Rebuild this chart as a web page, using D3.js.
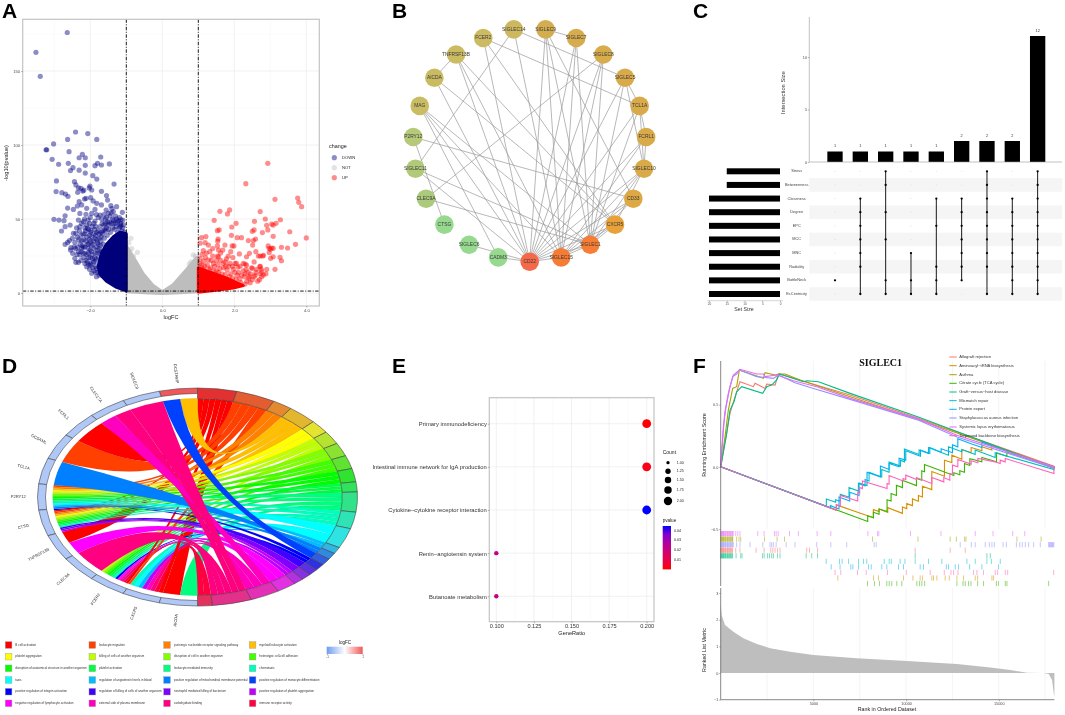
<!DOCTYPE html>
<html><head><meta charset="utf-8">
<script src="https://cdn.jsdelivr.net/npm/d3@7/dist/d3.min.js"></script>
<style>
html,body{margin:0;padding:0;background:#fff}
svg{display:block;filter:blur(.3px)}
text{font-family:"Liberation Sans",Arial,sans-serif}
</style></head><body><svg id="c" width="1065" height="715"></svg>
<script>
/* ---------- A: volcano ---------- */
const volcanoDown=[[-2.64,176],[-3.51,162.6],[-3.39,146.4],[-2.41,108.8],[-2.07,107.7],[-2.63,103.8],[-1.82,103.8],[-3.02,100.7],[-3.23,96.8],[-3.21,96.8],[-2.59,95.5],[-2.22,93.7],[-2.31,91.4],[-2.14,91.4],[-1.71,91.9],[-3.06,90.3],[-2.88,87],[-2.61,87.6],[-1.8,87.6],[-1.69,86.5],[-1.47,87.2],[-1.87,86],[-2.14,86.3],[-2.48,84.7],[-2.55,82.7],[-2.31,83],[-2.14,81],[-1.93,79.3],[-1.82,77],[-2.94,75.7],[-2.44,75.2],[-1.34,73.6],[-2.4,73],[-2.33,71],
[-2.95,68.5],[-2.79,67.8],[-2.69,66.9],[-2.62,65.3],[-2.35,68],[-2.26,70.7],[-2.01,72.3],[-2.03,71],[-1.96,69.6],[-2.21,68.9],[-2.18,69.5],[-1.69,68.7],[-1.55,65.8],[-1.52,62.8],[-2.12,64],[-2.16,63.5],[-1.99,64.4],[-2.31,61.7],[-2.24,59.5],[-1.92,62.2],[-1.82,60.6],[-1.69,59.5],[-1.43,59],[-1.27,58.3],[-1.4,57],[-2.63,57.4],[-2.47,56.5],[-2.36,58.8],[-2.1,57.2],[-1.87,56.5],[-1.56,56],[-1.36,55],[-1.11,54.5],[-2.7,52.2],[-3.01,49.8],[-2.87,49.3],[-2.73,48.9],[-2.29,53.8],[-2.12,53.2],[-1.96,53.8],[-1.73,52.7],[-1.55,51.1],[-1.58,50],[-2.33,49.3],[-2.19,48.2],[-2.06,49.3],[-1.87,48.6],[-1.1,49.3],[-1.22,48.9],[-1.15,49.5],[-1.42,47],[-2.56,45.9],[-2.7,44.8],[-2.8,41.9],[-2.29,44.8],[-2.08,43.7],[-1.73,44.8],[-1.62,46],[-1.95,45],[-1.78,42],[-1.5,46],[-1.3,47],[-1.17,45],[-1.1,44],[-2.4,40.3],[-2.47,40.3],[-2.36,37.6],[-2.58,35.4],[-2.63,34.2],[-2.7,32.9],[-2.24,35.4],[-2.43,34.2],[-2.08,32.9],[-2.05,33],[-1.87,36.9],[-2.15,40],[-2,41],[-1.85,39],[-1.7,38],[-2.54,30.6],[-2.41,30],[-2.24,30.2],[-2.01,29],[-2.49,26.8],[-2.29,25.7],[-2.43,23.4],[-2.4,20.7],[-2.33,20.7],[-2.15,20],[-2.1,17.8],[-1.87,21.2],[-1.96,13.3],[-1.73,26.8],[-1.69,17.8],[-1.82,16.7],[-1.95,26],[-2.05,24],[-1.9,30],[-2.15,27],[-1.78,33],[-1.88,24],[-1.98,19],[-2.02,16],[-1.9,15],[-1.83,11],[-1.75,12],
[-1.08,46],[-1.12,42],[-1.16,47],[-1.2,44],[-1.24,41],[-1.28,45],[-1.33,43],[-1.38,44],[-1.44,41],[-1.49,43],[-1.53,39],[-1.58,42],[-1.61,37],[-1.66,40],[-1.71,35],[-1.75,37],[-1.8,34],[-1.84,31],[-1.91,35],[-1.97,32],[-2.03,36],[-2.1,38],[-2.18,36],[-2.22,32],[-2.28,33],[-2.33,28],[-2.18,24],[-2.12,22],[-2.26,22],[-1.3,52],[-1.38,50],[-1.45,52],[-1.5,54],[-1.62,53],[-1.68,50],[-1.78,51],[-1.83,53],[-1.9,47],[-2,51],[-2.02,47],[-2.1,46],[-2.16,50],[-2.24,47],[-2.3,42],[-2.38,44],[-2.15,44],[-2.05,43],[-1.88,43],[-1.67,47],[-1.58,47],[-1.47,48],[-1.37,47],[-1.27,50],[-1.19,51],[-1.65,24],[-1.62,20],[-1.7,22],[-1.73,20],[-1.77,24],[-1.81,27],[-1.84,23],[-1.86,18],[-1.91,21],[-1.94,23],[-1.97,28],[-2,24],[-2.05,27],[-2.08,21],[-1.75,30],[-1.82,36],[-1.64,33],[-1.68,28],[-1.72,32],[-1.79,29],[-1.86,27],[-1.93,33],[-1.99,35],[-2.06,30],[-2.12,35],[-2.19,31],[-2.26,28],[-2.35,31],[-1.6,26],[-1.64,14],[-1.67,16],[-1.71,14],[-1.76,17],[-1.79,14],[-1.85,14],[-1.93,17],[-2,20],[-2.04,19],[-1.55,44],[-1.6,43],[-1.65,42],[-1.7,41],[-1.76,40],[-1.82,41],[-1.9,40],[-1.96,38],[-1.35,49],[-1.25,48],[-1.15,46],[-1.05,41],[-1.03,38],[-1.06,36],[-1.42,54],[-1.52,48],[-1.98,42],[-1.85,45],[-2.13,42],[-2.2,40],[-2.26,39],[-2.32,36],[-2.5,37],[-2.45,31],[-2.37,26],[-2.55,29],[-2.2,27],[-2.1,26],[-2.15,31],[-2.02,39]];
const volcanoUp=[[2.93,87.6],[2.32,73.9],[3.13,63.3],[3.76,64.2],[3.79,61.3],[3.87,58.3],[1.6,55.2],[1.87,56.1],[1.81,53.4],[2.72,55],[1.44,49.1],[2.86,50],[3.28,49.5],[2.05,47.1],[2.56,48.4],[3.04,46.6],[3.16,47.1],[3.08,45.9],[2.9,45.7],[1.93,44.6],[1.53,42.1],[1.58,42.6],[2.55,42.6],[2.5,41.7],[2.93,42.6],[2.78,40.8],[3.54,41.4],[1.92,39],[3.08,38.3],[2.08,37.4],[2.2,37.4],[4,37.2],[1.09,37.4],[1.21,38.1],[1.55,36.5],[1.54,35],[2.39,35.4],[2.59,36.5],[2.53,35.4],[3.7,32.9],[2.51,32.4],[2.94,31.8],[3.31,30.9],[3.48,30.4],[2.97,30.2],[3.04,30.4],[3.08,30.2],[3,29.5],[1.05,33.6],[1.19,34],[1.28,32.4],[1.53,31.8],[1.74,32.4],[1.94,31.8],[1.99,31.8],[1.14,28.6],[1.32,27.9],[1.56,29],[1.68,29],[1.9,27.9],[2.14,26.4],[2.42,26.8],[2.6,27.9],[2.97,27.3],[2.67,25],[2.81,25.5],[2.79,25],[3.01,23.4],[3.08,24.5],[3.27,24.1],[3.31,21.8],[3.13,16],[2.9,16],[2.76,14.4],[2.81,12.2],[2.71,17.8],[2.5,16.7],[2.3,19.6],[2.34,18.9],[2.34,24.5],[1.83,25],[1.53,25],[1.56,24.5],[2.06,20],[1.88,20],[1.69,20],[1.42,20],[1.28,22.3],[1.1,26],[1.05,23],[1.2,24],[1.4,25],[1.62,22],[1.75,21],[1.95,18],[2.1,17.5],[2.25,15],[2.45,13],[2.6,14],[2.75,16],[2.72,13],[2.55,11],[2.4,10],[2.2,12],[2.15,9.5],[2.35,8],[1.15,21.5],[1.25,19],[1.45,18],[1.6,16.5],[1.8,15.5],[1.9,13],[2.02,14],[2.48,17],[2.62,16],[2.72,18],
[1.04,20],[1.1,19],[1.18,18],[1.34,17],[1.5,15],[1.55,19],[1.7,17],[1.76,18],[1.84,18],[1.97,16],[2.08,12],[2.12,14],[2.28,11],[2.3,13],[2.38,14],[2.5,9],[2.65,8],[2.58,12],[2.44,7],[2.3,6],[2.18,7],[2.05,9],[1.95,10],[1.86,11],[1.75,12.5],[1.66,13],[1.56,14],[1.42,15],[1.3,16],[1.15,16],[1.08,17],[2.76,11],[2.7,9],[2.88,13],[2.42,11],[2.33,16],[2.16,18],[1.5,22],[1.36,22],[1.22,27],[1.4,30],[1.62,27],[1.78,23],[1.96,24],[2.02,20],[2.25,20],[2.55,21],[2.72,25]];
const volcanoMidGrey=[[-0.87,37],[-0.69,27.5],[-0.93,34],[-0.85,30],[0.86,25.7],[0.92,25],[0.8,21],[0.75,19.5],[-0.9,28],[-0.8,25]];
const denseDownTop=[[-1,40],[-1.18,41],[-1.36,38],[-1.55,33],[-1.69,27],[-1.78,18]];
const denseDownBottom=[[-1.73,12.5],[-1.55,8],[-1.27,3.8],[-1,1.4]];
const denseUpTop=[[1,17],[1.23,15],[1.51,12.5],[1.79,10],[2.06,7],[2.25,5]];
const denseUpBottom=[[1.97,3.4],[1.5,1.8],[1.05,0.6],[1,0.6]];
const greyTop=[[-1,32],[-0.85,26],[-0.7,20],[-0.53,13],[-0.25,5],[0,0.8],[0.3,5.5],[0.68,16],[0.95,24],[1,24]];
const greyBottom=[[1,0.8],[0.5,0.1],[0,-0.3],[-0.5,0.1],[-1,0.8]];
const volcanoLegend=["DOWN","NOT","UP"];
const volcanoXTicks=[-2,0,2,4], volcanoYTicks=[0,50,100,150];

/* ---------- B: network ---------- */
const netNodes=["CD22","SIGLEC15","SIGLEC1","CXCR5","CD33","SIGLEC10","FCRL1","TCL1A","SIGLEC5","SIGLEC8","SIGLEC7","SIGLEC9","SIGLEC14","FCER2","TNFRSF13B","AICDA","MAG","P2RY12","SIGLEC11","CLEC9A","CTSG","SIGLEC6","CADM3"];
const netColors=["#f4694a","#f67b35","#f67d33","#e9a239","#dca945","#d9aa48","#d8aa4a","#d8aa4a","#d8aa4a","#d6ac4c","#d6ac4e","#d4ad50","#cdb860","#cdbb63","#cbbb62","#cabb62","#c9bc63","#b5c978","#b1ca79","#acca7b","#96d98f","#96d98f","#96d98f"];
const netEdges=[["TNFRSF13B","AICDA"],["TNFRSF13B","CD22"],["TNFRSF13B","SIGLEC15"],["TNFRSF13B","CXCR5"],["FCER2","TCL1A"],["FCER2","CD22"],["FCER2","CXCR5"],["SIGLEC14","SIGLEC11"],["SIGLEC14","SIGLEC5"],["SIGLEC14","SIGLEC15"],["SIGLEC9","SIGLEC7"],["SIGLEC9","CD22"],["SIGLEC9","SIGLEC15"],["SIGLEC9","SIGLEC1"],["SIGLEC9","CD33"],["SIGLEC7","CD22"],["SIGLEC7","SIGLEC15"],["SIGLEC7","SIGLEC1"],["SIGLEC8","CLEC9A"],["SIGLEC8","CD22"],["SIGLEC8","SIGLEC15"],["SIGLEC8","SIGLEC1"],["SIGLEC5","TCL1A"],["SIGLEC5","CD22"],["SIGLEC5","SIGLEC1"],["SIGLEC5","SIGLEC10"],["TCL1A","FCRL1"],["TCL1A","SIGLEC10"],["TCL1A","CD22"],["TCL1A","SIGLEC1"],["FCRL1","SIGLEC10"],["FCRL1","CD22"],["FCRL1","SIGLEC15"],["SIGLEC10","CD22"],["SIGLEC10","SIGLEC15"],["SIGLEC10","SIGLEC1"],["SIGLEC10","CXCR5"],["CD33","CD22"],["CD33","SIGLEC15"],["CD33","SIGLEC1"],["CXCR5","CD22"],["CXCR5","SIGLEC15"],["CXCR5","SIGLEC1"],["SIGLEC1","CD22"],["SIGLEC1","SIGLEC15"],["SIGLEC15","CD22"],["AICDA","CD22"],["AICDA","CXCR5"],["MAG","CD22"],["MAG","CADM3"],["MAG","SIGLEC1"],["MAG","SIGLEC15"],["P2RY12","CTSG"],["P2RY12","CD33"],["SIGLEC11","CD22"],["SIGLEC11","SIGLEC1"],["CLEC9A","SIGLEC1"],["SIGLEC6","CD22"],["CADM3","CD22"]];

/* ---------- C: upset ---------- */
const setNames=["Stress","Betweenness","Closeness","Degree","EPC","MCC","MNC","Radiality","BottleNeck","EcCentricity"];
const setSizes=[15,15,20,20,20,20,20,20,20,20];
const intersectionSizes=[1,1,1,1,1,2,2,2,12];
const intersectionSets=[
 ["BottleNeck"],
 ["Closeness","Degree","EPC","MCC","MNC","Radiality","EcCentricity"],
 ["Stress","Betweenness","Degree","MCC","BottleNeck","EcCentricity"],
 ["MNC","BottleNeck","EcCentricity"],
 ["Closeness","EPC","Radiality","BottleNeck","EcCentricity"],
 ["Closeness","Degree","EPC","MCC","MNC","Radiality","BottleNeck"],
 ["Stress","Betweenness","Closeness","Degree","EPC","MCC","MNC","Radiality","EcCentricity"],
 ["Closeness","Degree","EPC","MCC","MNC","Radiality","BottleNeck","EcCentricity"],
 ["Stress","Betweenness","Closeness","Degree","EPC","MCC","MNC","Radiality","BottleNeck","EcCentricity"]];

/* ---------- D: GO chord ---------- */
const chordTerms=["B cell activation","leukocyte migration","purinergic nucleotide receptor signaling pathway","myeloid leukocyte activation","platelet aggregation","killing of cells of another organism","disruption of cell in another organism","heterotypic cell-cell adhesion","disruption of anatomical structure in another organism","platelet activation","leukocyte mediated immunity","chemotaxis","taxis","regulation of angiotensin levels in blood","positive regulation of mitochondrial membrane potential","positive regulation of monocyte differentiation","positive regulation of integrin activation","regulation of killing of cells of another organism","neutrophil mediated killing of bacterium","positive regulation of platelet aggregation","negative regulation of lymphocyte activation","external side of plasma membrane","carbohydrate binding","immune receptor activity"];
const chordTermColors=["#ff0000","#ff4000","#ff8000","#ffbf00","#ffff00","#bfff00","#80ff00","#40ff00","#00ff00","#00ff40","#00ff80","#00ffbf","#00ffff","#00bfff","#0080ff","#0040ff","#0000ff","#4000ff","#8000ff","#bf00ff","#ff00ff","#ff00bf","#ff0080","#ff0040"];
const chordTermWeights=[8,8,4,6,4,4,4,4,4,3,6,5,6,2,2,2,2,2,2,2,4,6,8,3];
const chordGenes=["DCSTAMP","SIGLEC8","CLEC17A","FCRL1","GCSAML","TCL1A","P2RY12","CTSG","TNFRSF13B","CLEC9A","FCER2","CXCR5","AICDA"];
const chordGeneLogFC=[1,-0.55,-0.55,-0.55,-0.55,-0.55,-0.55,-0.55,-0.55,-0.55,-0.55,-0.55,-0.55];
const chordGeneTerms=[[4,16],[23],[23,22],[1],[2],[15],[2,3,4,5,6,7,8,9,10,11,12,13,14,15],[17,1,2,3,4,5,6,7,8,9,10,11,12,18,19,20],[1,21],[23],[6,7,8,9,10,11,12,17,21,22,23,24,1,2],[12,13,14,20,22,23,24,1],[1,11]];

/* ---------- E: dot plot ---------- */
const dotTerms=["Primary immunodeficiency","Intestinal immune network for IgA production","Cytokine\u2212cytokine receptor interaction","Renin\u2212angiotensin system","Butanoate metabolism"];
const dotRatio=[0.2,0.2,0.2,0.1,0.1];
const dotCount=[2,2,2,1,1];
const dotP=[0.003,0.005,0.046,0.024,0.024];
const dotXTicks=[0.1,0.125,0.15,0.175,0.2];
const dotLegendCounts=[1,1.25,1.5,1.75,2];
const dotLegendP=[0.04,0.03,0.02,0.01];

/* ---------- F: GSEA ---------- */
const gseaNames=["Allograft rejection","Aminoacyl\u2212tRNA biosynthesis","Asthma","Citrate cycle (TCA cycle)","Graft\u2212versus\u2212host disease","Mismatch repair","Protein export","Staphylococcus aureus infection","Systemic lupus erythematosus","Terpenoid backbone biosynthesis"];
const gseaColors=["#F8766D","#D89000","#A3A500","#39B600","#00BF7D","#00BFC4","#00B0F6","#9590FF","#E76BF3","#FF62BC"];
const esAllograft=[[0,0],[286,.241],[502,.43],[718,.537],[952,.645],[1042,.685],[1762,.645],[1852,.672],[2392,.631],[2482,.666],[2932,.658],[3112,.747],[3382,.739],[4552,.685],[6982,.578],[10584,.395],[17974,.005],[18000,0]];
const esAminoacyl=[[0,0],[6238,-.349],[6238,-.306],[8236,-.409],[8236,-.344],[8542,-.36],[8542,-.339],[9010,-.366],[9010,-.328],[9802,-.374],[9802,-.323],[10036,-.336],[10036,-.296],[10342,-.312],[10342,-.258],[10666,-.277],[10666,-.231],[10882,-.242],[10882,-.156],[11386,-.183],[11386,-.038],[12070,-.075],[12070,.054],[12466,.035],[12466,.094],[13006,.062],[13006,.14],[13510,.113],[13510,.156],[14086,.129],[14086,.161],[14626,.135],[14626,.172],[15526,.129],[17974,-.013],[18000,0]];
const esAsthma=[[0,0],[232,.241],[412,.457],[646,.631],[862,.645],[1006,.779],[2302,.712],[2392,.758],[2932,.739],[3166,.747],[3472,.747],[4282,.699],[6982,.564],[10584,.385],[17974,0],[18000,0]];
const esCitrate=[[0,0],[7930,-.44],[7930,-.393],[8236,-.409],[8236,-.366],[8542,-.382],[8542,-.339],[8974,-.36],[8974,-.264],[9190,-.274],[9190,-.215],[9478,-.231],[9478,-.148],[9802,-.167],[9802,-.108],[10558,-.151],[10558,-.094],[10846,-.108],[10846,-.032],[10990,-.04],[10990,.019],[12574,-.07],[12574,-.048],[12898,-.064],[12898,-.032],[13150,-.043],[13150,.027],[13438,.011],[13438,.065],[14086,.04],[14086,.076],[14878,.04],[14878,.113],[15436,.086],[15436,.119],[17974,0],[18000,0]];
const esGvhd=[[0,0],[322,.268],[502,.457],[718,.524],[862,.604],[1132,.645],[2266,.591],[2482,.645],[2752,.658],[3022,.699],[3166,.747],[4462,.685],[4642,.693],[5272,.685],[6982,.591],[10584,.405],[17974,-.01],[18000,0]];
const esMismatch=[[0,0],[5698,-.319],[5698,-.258],[6202,-.285],[6202,-.264],[6454,-.277],[6454,-.22],[6922,-.245],[6922,-.167],[7426,-.194],[7426,-.134],[7786,-.153],[7786,-.102],[8002,-.113],[8002,-.043],[8686,-.081],[8686,-.021],[9082,-.043],[9082,.038],[9694,.006],[9694,.054],[9910,.04],[9910,.143],[10702,.1],[10702,.135],[11206,.108],[11206,.156],[12286,.094],[12286,.161],[13006,.121],[13006,.14],[13726,.1],[13726,.135],[14806,.075],[14806,.113],[17974,-.021],[18000,0]];
const esProtein=[[0,0],[5914,-.33],[5914,-.312],[6382,-.339],[6382,-.242],[6958,-.274],[6958,-.204],[7462,-.231],[7462,-.129],[7894,-.15],[7894,-.043],[8614,-.081],[8614,.006],[9082,-.021],[9082,.027],[9622,0],[9622,.07],[9982,.054],[9982,.129],[10774,.086],[10774,.135],[11278,.108],[11278,.156],[11890,.118],[11890,.145],[12502,.113],[12502,.178],[12790,.161],[12790,.226],[13546,.183],[14086,.156],[14086,.199],[14986,.148],[17974,-.005],[18000,0]];
const esStaph=[[0,0],[142,.322],[286,.483],[502,.645],[682,.739],[1006,.779],[1942,.726],[2842,.712],[3112,.739],[4012,.677],[5002,.631],[6982,.543],[10584,.38],[12744,.24],[17974,-.01],[18000,0]];
const esSle=[[0,0],[106,.214],[214,.43],[412,.591],[646,.726],[862,.747],[1042,.785],[1942,.747],[2302,.747],[2392,.726],[3022,.739],[3922,.693],[5182,.645],[6982,.551],[10584,.39],[12744,.255],[17974,.0],[18000,0]];
const esTerpenoid=[[0,0],[6238,-.349],[6238,-.306],[6454,-.317],[6454,-.231],[7390,-.274],[7390,-.204],[7498,-.21],[7498,-.167],[7642,-.175],[7642,-.113],[8974,-.175],[8974,-.134],[9082,-.14],[9082,-.07],[9838,-.113],[9838,-.094],[9982,-.102],[9982,-.067],[10558,-.102],[10558,-.086],[11386,-.134],[11386,-.086],[12034,-.121],[12034,-.086],[12358,-.107],[12358,-.054],[12502,-.059],[12502,.014],[12790,0],[12790,.059],[13510,.022],[13510,.049],[13870,.032],[13870,.067],[14806,.04],[15076,.027],[15076,.054],[15346,.04],[15346,.067],[17974,-.054],[17974,.005]];
const denseHits=[0,30,60,90,120,150,180,220,260,290,340,370,410,450,490,520,560,600,640];
const hitsSle=[680,810,920,1040,2000,2340,2900,2990,3100,3710,4190,5200,5940,7940,8460,8530,10240,11880,13730,14690,15750,16400];
const hitsAsthma=[650,860,990,1080,2360,3040,3440,8190,10640,12380,12710,13160,13230,15980,17280];
const hitsStaph=[680,860,1040,1580,2270,2660,2750,2840,2990,3530,4010,5180,5940,6800,8280,8390,12920,13520,13730,14270,14490,14630,14760,15230,15410,15950,16130,16270,16430,16610,16880,17240,17690,17730,17770,17810,17850,17890,17930,17970];
const hitsAllograft=[810,1040,1910,2340,2700,2810,2930,3060,3200,4640,4790,5220,10490,12380,13190];
const hitsGvhd=[830,1080,1150,2250,2340,2520,2630,2750,2840,3060,3200,4610,4910,5220,10490,14360,14540];
const hitsMismatch=[5690,6410,6550,6890,7430,7700,7880,8820,9090,9200,9680,9940,10490,11210,11930,13280,13730,14360,14600,15080];
const hitsProtein=[5960,6440,7020,7130,7430,7970,8120,8690,8960,9590,9860,10760,10940,12170,12290,12650,12830,13430,14090,14990];
const hitsTerpenoid=[6170,6480,7380,7850,9000,10010,11300,12060,12420,12560,12800,13640,13820,14180,14810,14940,15350,15480,17960];
const hitsAminoacyl=[6320,8240,8510,9860,10370,10760,10890,11390,11480,11660,12110,12330,12740,13100,13730,13860,14630,14720];
const hitsCitrate=[7920,8300,8570,8960,9090,9230,9500,9770,10580,10730,10850,11000,12740,13070,13190,13370,13500,13860,14180,14870,14990,15350,15440,17690];
const rankedMetric=[[0,2.6],[54,2.17],[234,1.8],[684,1.55],[1224,1.3],[1944,1.09],[2664,.93],[3744,.8],[5004,.675],[7344,.55],[10044,.45],[12744,.34],[14544,.21],[15624,.11],[16524,.01],[17424,0],[17694,-.04],[17874,-.26],[17964,-.76],[18000,-.9]];

/* ---------- drawing ---------- */
const svg=d3.select("#c");
svg.append("rect").attr("width",1065).attr("height",715).attr("fill","#fff");
const GREY="#4d4d4d";
function letter(t,x,y){svg.append("text").text(t).attr("x",x).attr("y",y).attr("font-size",21).attr("font-weight",700).attr("fill","#000");}
function label(g,t,x,y,fs,o={}){const e=g.append("text").text(t).attr("x",x).attr("y",y).attr("font-size",fs).attr("fill",o.fill||"#222").attr("text-anchor",o.anchor||"middle").attr("dominant-baseline","middle");
 if(o.rot!=null)e.attr("transform",`rotate(${o.rot} ${x} ${y})`);if(o.family)e.style("font-family",o.family);if(o.weight)e.attr("font-weight",o.weight);return e;}
function styleAxis(sel,fs,col=GREY){sel.selectAll("text").attr("font-size",fs).attr("fill",col).style("font-family",'"Liberation Sans",Arial');
 sel.selectAll(".tick line").attr("stroke","#666").attr("stroke-width",.5);
 sel.select(".domain").remove();}

letter("A",2,18);letter("B",392,18);letter("C",693,18);letter("D",2,373);letter("E",392,373);letter("F",693,373);

/* A */
(function(){
 const g=svg.append("g");
 const x=d3.scaleLinear().domain([-2,4]).range([90.3,306.3]);
 const y=d3.scaleLinear().domain([0,150]).range([293,71]);
 const L=22.7,R=319.3,T=19.3,B=306;
 const xMin=[-3,-1,1,3], yMin=[25,75,125,175];
 g.selectAll(".xm").data(xMin).join("line").attr("x1",d=>x(d)).attr("x2",d=>x(d)).attr("y1",T).attr("y2",B).attr("stroke","#f4f4f4").attr("stroke-width",.5);
 g.selectAll(".ym").data(yMin).join("line").attr("y1",d=>y(d)).attr("y2",d=>y(d)).attr("x1",L).attr("x2",R).attr("stroke","#f4f4f4").attr("stroke-width",.5);
 g.selectAll(".xg").data(volcanoXTicks).join("line").attr("x1",d=>x(d)).attr("x2",d=>x(d)).attr("y1",T).attr("y2",B).attr("stroke","#ebebeb").attr("stroke-width",.7);
 g.selectAll(".yg").data(volcanoYTicks).join("line").attr("y1",d=>y(d)).attr("y2",d=>y(d)).attr("x1",L).attr("x2",R).attr("stroke","#ebebeb").attr("stroke-width",.7);
 const line=d3.line().x(d=>x(d[0])).y(d=>y(d[1]));
 const poly=(pts,c,w)=>g.append("path").attr("d",line(pts)+"Z").attr("fill",c).attr("stroke",c).attr("stroke-width",w).attr("stroke-linejoin","round");
 poly(greyTop.concat(greyBottom),"#bdbdbd",3);
 g.selectAll(".ng").data(volcanoMidGrey).join("circle").attr("cx",d=>x(d[0])).attr("cy",d=>y(d[1])).attr("r",2.6).attr("fill","#bebebe").attr("opacity",.45);
 poly(denseDownTop.concat(denseDownBottom),"#00007a",3);
 poly(denseUpTop.concat(denseUpBottom),"#ff0000",3);
 g.selectAll(".d").data(volcanoDown).join("circle").attr("cx",d=>x(d[0])).attr("cy",d=>y(d[1])).attr("r",2.6).attr("fill","#000080").attr("opacity",.45);
 g.selectAll(".u").data(volcanoUp).join("circle").attr("cx",d=>x(d[0])).attr("cy",d=>y(d[1])).attr("r",2.6).attr("fill","#ff0000").attr("opacity",.45);
 [-1,1].forEach(v=>g.append("line").attr("x1",x(v)).attr("x2",x(v)).attr("y1",T).attr("y2",B).attr("stroke","#000").attr("stroke-width",.9).attr("stroke-dasharray","3.5 1.5 1 1.5"));
 g.append("line").attr("x1",L).attr("x2",R).attr("y1",y(1.3)).attr("y2",y(1.3)).attr("stroke","#000").attr("stroke-width",.9).attr("stroke-dasharray","3.5 1.5 1 1.5");
 g.append("rect").attr("x",L).attr("y",T).attr("width",R-L).attr("height",B-T).attr("fill","none").attr("stroke","#c4c4c4").attr("stroke-width",1.2);
 const ax=g.append("g").attr("transform",`translate(0,${B})`).call(d3.axisBottom(x).tickValues(volcanoXTicks).tickSize(1.5).tickPadding(1.5));styleAxis(ax,4.2);
 const ay=g.append("g").attr("transform",`translate(${L},0)`).call(d3.axisLeft(y).tickValues(volcanoYTicks).tickSize(1.5).tickPadding(1));styleAxis(ay,4.2);
 label(g,"logFC",171,318,5.6);
 label(g,"-log10(pvalue)",7,163,5.6,{rot:-90});
 label(g,"change",329,147,5.4,{anchor:"start"});
 const lc=["#000080","#bebebe","#ff0000"];
 volcanoLegend.forEach((t,i)=>{const yy=157.7+i*10;
  g.append("circle").attr("cx",334.3).attr("cy",yy).attr("r",2.6).attr("fill",lc[i]).attr("opacity",.45);
  label(g,t,342,yy,4.2,{anchor:"start"});});
})();

/* B */
(function(){
 const g=svg.append("g");
 const cx=529.7,cy=145,r=116.7,n=netNodes.length;
 const angle=d3.scaleOrdinal().domain(netNodes).range(d3.range(n).map(i=>Math.PI-i*2*Math.PI/n));
 const px=d=>cx+r*Math.sin(angle(d)), py=d=>cy-r*Math.cos(angle(d));
 g.selectAll("line").data(netEdges).join("line")
  .attr("x1",d=>px(d[0])).attr("y1",d=>py(d[0])).attr("x2",d=>px(d[1])).attr("y2",d=>py(d[1]))
  .attr("stroke","#9a9a9a").attr("stroke-width",.7);
 g.selectAll("circle").data(netNodes).join("circle").attr("cx",px).attr("cy",py).attr("r",9.3).attr("fill",(d,i)=>netColors[i]);
 g.selectAll("text").data(netNodes).join("text").text(d=>d).attr("x",px).attr("y",py).attr("font-size",4.9).attr("text-anchor","middle").attr("dominant-baseline","middle").attr("fill","#3a3a3a");
})();

/* C */
(function(){
 const g=svg.append("g");
 const step=25.33;
 const x=d3.scaleBand().domain(d3.range(9)).range([835-step/2,835+step*8.5]).paddingInner(.395).paddingOuter(.1975);
 const y=d3.scaleLinear().domain([0,10]).range([162,57]);
 const rowY=d3.scalePoint().domain(setNames).range([171.3,294]);
 setNames.forEach((s,i)=>{if(i%2)g.append("rect").attr("x",809.3).attr("y",rowY(s)-6.8).attr("width",253).attr("height",13.6).attr("fill","#f5f5f5");});
 g.selectAll(".b").data(intersectionSizes).join("rect").attr("x",(d,i)=>x(i)).attr("y",d=>y(d)).attr("width",x.bandwidth()).attr("height",d=>162-y(d)).attr("fill","#000");
 g.selectAll(".bl").data(intersectionSizes).join("text").text(d=>d).attr("x",(d,i)=>x(i)+x.bandwidth()/2).attr("y",d=>y(d)-4.5).attr("font-size",3.8).attr("text-anchor","middle").attr("fill","#333");
 const ay=g.append("g").attr("transform","translate(809.3,0)").call(d3.axisLeft(y).tickValues([0,5,10]).tickSize(1.5).tickPadding(.8));styleAxis(ay,3.8);
 g.append("line").attr("x1",809.3).attr("x2",809.3).attr("y1",17).attr("y2",162).attr("stroke","#999").attr("stroke-width",.6);
 g.append("line").attr("x1",809.3).attr("x2",1062).attr("y1",162).attr("y2",162).attr("stroke","#999").attr("stroke-width",.6);
 label(g,"Intersection Size",783,92.7,5.8,{rot:-90,fill:"#333"});
 const sx=d3.scaleLinear().domain([0,20]).range([780,709]);
 setNames.forEach((s,i)=>{
  g.append("rect").attr("x",sx(setSizes[i])).attr("y",rowY(s)-3).attr("width",780-sx(setSizes[i])).attr("height",6).attr("fill","#000");
  label(g,s,796.7,rowY(s),3.9,{fill:"#444"});
 });
 const ax=g.append("g").attr("transform","translate(0,300.7)").call(d3.axisBottom(sx).tickValues([20,15,10,5,0]).tickSize(1.2).tickPadding(.8));styleAxis(ax,3.1);
 g.append("line").attr("x1",707).attr("x2",783).attr("y1",300.7).attr("y2",300.7).attr("stroke","#aaa").attr("stroke-width",.5);
 label(g,"Set Size",744,310,5.2,{fill:"#333"});
 intersectionSets.forEach((sets,i)=>{
  const cxx=x(i)+x.bandwidth()/2;
  setNames.forEach(s=>{g.append("circle").attr("cx",cxx).attr("cy",rowY(s)).attr("r",sets.includes(s)?1.15:.55).attr("fill",sets.includes(s)?"#000":"#ddd");});
  const ys=sets.map(s=>rowY(s));
  if(ys.length>1)g.append("line").attr("x1",cxx).attr("x2",cxx).attr("y1",d3.min(ys)).attr("y2",d3.max(ys)).attr("stroke","#000").attr("stroke-width",.9);
 });
})();

/* D */
(function(){
 const R=100,rib=90.5;
 const g=svg.append("g").attr("transform","translate(197.5,497) scale(1.6,1.09)");
 const total=d3.sum(chordTermWeights), H=Math.PI;
 let acc=0;
 const termArc=chordTermWeights.map(w=>{const s=acc;acc+=w;return{a0:s/total*H,a1:acc/total*H};});
 const gw=H/chordGenes.length;
 const links=[];
 chordGeneTerms.forEach((ts,i)=>ts.forEach((t,j)=>{const w=gw/ts.length;
  links.push({gene:i,term:t-1,s0:-i*gw-(j+1)*w,s1:-i*gw-j*w});}));
 termArc.forEach((a,t)=>{const l=links.filter(k=>k.term===t);const w=(a.a1-a.a0)/l.length;
  l.sort((p,q)=>p.gene-q.gene).forEach((k,j)=>{k.t0=a.a0+j*w;k.t1=k.t0+w;});});
 const ribbon=d3.ribbon().radius(rib).source(d=>({startAngle:d.s0,endAngle:d.s1})).target(d=>({startAngle:d.t0,endAngle:d.t1}));
 links.sort((p,q)=>q.gene-p.gene);
 g.selectAll(".r").data(links).join("path").attr("d",ribbon).attr("fill",d=>chordTermColors[d.term]).attr("stroke","#555").attr("stroke-opacity",.22).attr("stroke-width",.3).attr("vector-effect","non-scaling-stroke");
 const arc=d3.arc();
 g.selectAll(".t").data(termArc).join("path").attr("d",d=>arc({innerRadius:rib,outerRadius:R,startAngle:d.a0,endAngle:d.a1}))
  .attr("fill",(d,i)=>d3.interpolateRgb(chordTermColors[i],"#a0a0a0")(.3)).attr("stroke","#444").attr("stroke-width",.6).attr("vector-effect","non-scaling-stroke");
 const geneCol=d3.scaleLinear().domain([-1,0,1]).range(["#6f9bf0","#ffffff","#f2585a"]);
 g.selectAll(".g").data(chordGenes).join("path").attr("d",(d,i)=>arc({innerRadius:95,outerRadius:R,startAngle:-(i+1)*gw,endAngle:-i*gw}))
  .attr("fill",(d,i)=>geneCol(chordGeneLogFC[i])).attr("stroke","#444").attr("stroke-width",.6).attr("vector-effect","non-scaling-stroke");
 const lab=svg.append("g");
 chordGenes.forEach((t,i)=>{const m=-(i+.5)*gw;
  const lx=197.5+1.12*160*Math.sin(m), ly=497-1.14*109*Math.cos(m);
  label(lab,t,lx,ly,4.1,{fill:"#333",rot:90+m*180/Math.PI});});
 const lg=svg.append("g");
 const swX=[5.3,89,163.7,249.3], txX=[15.3,99,174,259.3], swY=[645,656.7,668.3,680,691.7,703.3];
 chordTerms.forEach((t,i)=>{const c=i%4,r=Math.floor(i/4);
  lg.append("rect").attr("x",swX[c]).attr("y",swY[r]-3.3).attr("width",6.6).attr("height",6.6).attr("fill",chordTermColors[i]).attr("stroke","#999").attr("stroke-width",.4);
  label(lg,t,txX[c],swY[r],3,{anchor:"start",fill:"#333"});});
 const defs=svg.append("defs");
 const gr=defs.append("linearGradient").attr("id","lfc");
 [["0%","#6f9bf0"],["50%","#ffffff"],["100%","#f2585a"]].forEach(s=>gr.append("stop").attr("offset",s[0]).attr("stop-color",s[1]));
 lg.append("rect").attr("x",326.7).attr("y",646.7).attr("width",36).attr("height",7.3).attr("fill","url(#lfc)");
 label(lg,"logFC",345,642.3,4.6);
 const sc=d3.scaleLinear().domain([-1,1]).range([327,362.5]);
 const a=lg.append("g").attr("transform","translate(0,654)").call(d3.axisBottom(sc).tickValues([-1,1]).tickSize(1).tickPadding(.6).tickFormat(d=>d==-1?"-1":"1"));styleAxis(a,3);
})();

/* E */
(function(){
 const g=svg.append("g");
 const L=489.3,Rr=654,T=397.7,B=621.7;
 const x=d3.scaleLinear().domain([.1,.2]).range([496.3,646.7]);
 const y=d3.scalePoint().domain(dotTerms).range([423.7,596.3]);
 const size=d3.scaleSqrt().domain([1,2]).range([2.2,4.4]);
 const pc=d3.scaleLinear().domain([0.003,0.046]).range(["#ff0000","#0000ff"]).interpolate(d3.interpolateLab);
 [.1125,.1375,.1625,.1875].forEach(v=>g.append("line").attr("x1",x(v)).attr("x2",x(v)).attr("y1",T).attr("y2",B).attr("stroke","#f5f5f5").attr("stroke-width",.5));
 dotXTicks.forEach(v=>g.append("line").attr("x1",x(v)).attr("x2",x(v)).attr("y1",T).attr("y2",B).attr("stroke","#ebebeb").attr("stroke-width",.7));
 dotTerms.forEach(v=>g.append("line").attr("x1",L).attr("x2",Rr).attr("y1",y(v)).attr("y2",y(v)).attr("stroke","#ebebeb").attr("stroke-width",.7));
 g.selectAll("circle").data(dotTerms).join("circle").attr("cx",(d,i)=>x(dotRatio[i])).attr("cy",d=>y(d)).attr("r",(d,i)=>size(dotCount[i])).attr("fill",(d,i)=>pc(dotP[i]));
 g.append("rect").attr("x",L).attr("y",T).attr("width",Rr-L).attr("height",B-T).attr("fill","none").attr("stroke","#c4c4c4").attr("stroke-width",1.2);
 const ax=g.append("g").attr("transform",`translate(0,${B})`).call(d3.axisBottom(x).tickValues(dotXTicks).tickSize(1.5).tickPadding(1.2).tickFormat(d3.format(".3f")));styleAxis(ax,5.6,"#333");
 const ay=g.append("g").attr("transform",`translate(${L},0)`).call(d3.axisLeft(y).tickSize(1.5).tickPadding(1));styleAxis(ay,5.8,"#333");
 label(g,"GeneRatio",571.7,634,5.6);
 label(g,"Count",662.7,453,5,{anchor:"start"});
 const ly=[462.7,471.3,480,490,501];
 dotLegendCounts.forEach((v,i)=>{g.append("circle").attr("cx",668).attr("cy",ly[i]).attr("r",size(v)*(i==0?.75:.95)).attr("fill","#000");
  label(g,d3.format(".2f")(v),676.7,ly[i],3.6,{anchor:"start"});});
 label(g,"pvalue",662.7,521,4.6,{anchor:"start"});
 const gr=svg.append("defs").append("linearGradient").attr("id","pv").attr("x1",0).attr("x2",0).attr("y1",1).attr("y2",0);
 d3.range(0,1.01,.2).forEach(t=>gr.append("stop").attr("offset",(t*100)+"%").attr("stop-color",d3.interpolateLab("#ff0000","#0000ff")(t)));
 g.append("rect").attr("x",662.7).attr("y",526).attr("width",8.3).attr("height",43.4).attr("fill","url(#pv)");
 const ps=d3.scaleLinear().domain([.01,.04]).range([560,530.7]);
 dotLegendP.forEach(v=>label(g,d3.format(".2f")(v),674,ps(v),3.6,{anchor:"start"}));
})();

/* F */
(function(){
 const g=svg.append("g");
 const x=d3.scaleLinear().domain([0,18000]).range([720.7,1054.4]);
 const y=d3.scaleLinear().domain([-.5,.5]).range([529,404.7]);
 const m=d3.scaleLinear().domain([-1,3]).range([699.7,593]);
 const gridV=[2500,5000,7500,10000,12500,15000,17500];
 gridV.forEach(v=>{
  g.append("line").attr("x1",x(v)).attr("x2",x(v)).attr("y1",361).attr("y2",529).attr("stroke","#ececec").attr("stroke-width",.6);
  g.append("line").attr("x1",x(v)).attr("x2",x(v)).attr("y1",588).attr("y2",699.7).attr("stroke","#ececec").attr("stroke-width",.6);
 });
 const area=d3.area().x(d=>x(d[0])).y0(m(0)).y1(d=>m(d[1]));
 g.append("path").attr("d",area(rankedMetric)).attr("fill","#bebebe");
 const all=[esAllograft,esAminoacyl,esAsthma,esCitrate,esGvhd,esMismatch,esProtein,esStaph,esSle,esTerpenoid];
 const line=d3.line().x(d=>x(d[0])).y(d=>y(d[1]));
 all.forEach((s,i)=>g.append("path").attr("d",line(s)).attr("fill","none").attr("stroke",gseaColors[i]).attr("stroke-width",1.1));
 const rows=[[8,denseHits.concat(hitsSle)],[2,denseHits.concat(hitsAsthma)],[7,denseHits.concat(hitsStaph)],[0,denseHits.concat(hitsAllograft)],[4,denseHits.concat(hitsGvhd)],[5,hitsMismatch],[6,hitsProtein],[9,hitsTerpenoid],[1,hitsAminoacyl],[3,hitsCitrate]];
 rows.forEach((r,i)=>{const y0=531+i*5.55;
  g.selectAll(null).data(r[1]).join("line").attr("x1",d=>x(d)).attr("x2",d=>x(d)).attr("y1",y0).attr("y2",y0+5.2).attr("stroke",gseaColors[r[0]]).attr("stroke-width",.8).attr("opacity",.65);});
 const ay=g.append("g").attr("transform","translate(720.7,0)").call(d3.axisLeft(y).tickValues([-.5,0,.5]).tickSize(1.5).tickPadding(.8).tickFormat(d=>d==0?"0.0":d<0?"\u22120.5":"0.5"));styleAxis(ay,3.8);
 g.append("line").attr("x1",720.7).attr("x2",720.7).attr("y1",361).attr("y2",586).attr("stroke","#555").attr("stroke-width",.7);
 const am=g.append("g").attr("transform","translate(720.7,0)").call(d3.axisLeft(m).tickValues([-1,0,1,2,3]).tickSize(1.5).tickPadding(.8).tickFormat(d=>d<0?"\u22121":d));styleAxis(am,3.8);
 g.append("line").attr("x1",720.7).attr("x2",720.7).attr("y1",588).attr("y2",699.7).attr("stroke","#555").attr("stroke-width",.7);
 const ax=g.append("g").attr("transform","translate(0,699.7)").call(d3.axisBottom(x).tickValues([5000,10000,15000]).tickSize(1.5).tickPadding(.8).tickFormat(d3.format("d")));styleAxis(ax,3.8);
 g.append("line").attr("x1",720.7).attr("x2",1054.4).attr("y1",699.7).attr("y2",699.7).attr("stroke","#555").attr("stroke-width",.7);
 label(g,"Running Enrichment Score",704.3,445,5.3,{rot:-90});
 label(g,"Ranked List Metric",704.3,650,5.3,{rot:-90});
 label(g,"Rank in Ordered Dataset",887,710,5.3);
 label(g,"SIGLEC1",880.7,363.5,10,{family:'"Liberation Serif",serif',weight:700,fill:"#111"});
 const ly=[357,365.7,374.7,383.3,392,400.7,409.3,418,427,435.7];
 gseaNames.forEach((t,i)=>{
  g.append("line").attr("x1",949.3).attr("x2",956.7).attr("y1",ly[i]).attr("y2",ly[i]).attr("stroke",gseaColors[i]).attr("stroke-width",1);
  label(g,t,959.3,ly[i],4.1,{anchor:"start",fill:"#333"});});
})();
</script></body></html>
